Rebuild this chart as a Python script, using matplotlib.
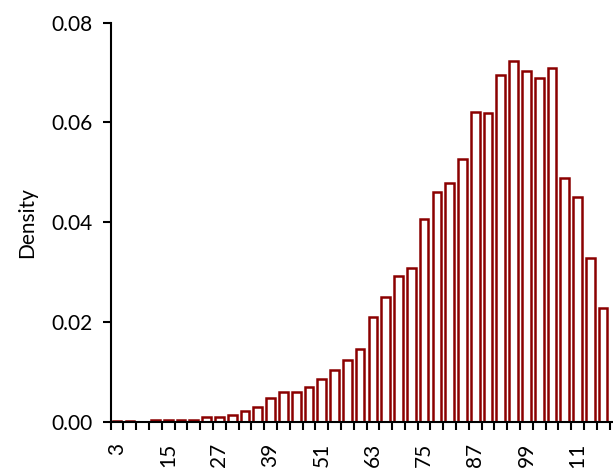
import numpy as np
import matplotlib.pyplot as plt

# valores (densidad por intervalo de 3)
bins = [3, 6, 9, 12, 15, 18, 21, 24, 27, 30, 33, 36, 39, 42, 45, 48, 51, 54, 57, 60,
        63, 66, 69, 72, 75, 78, 81, 84, 87, 90, 93, 96, 99, 102, 105, 108, 111, 114, 117]
density = [0.0002, 0.0002, 0.0, 0.0003, 0.0003, 0.0003, 0.0003, 0.0009, 0.0009, 0.0013,
           0.0021, 0.0029, 0.0047, 0.0060, 0.0059, 0.0069, 0.0085, 0.0103, 0.0123, 0.0145,
           0.0209, 0.0250, 0.0293, 0.0309, 0.0407, 0.0461, 0.0479, 0.0526, 0.0621, 0.0619,
           0.0695, 0.0723, 0.0703, 0.0689, 0.0710, 0.0489, 0.0451, 0.0329, 0.0228]
tick_labels = ['3', '15', '27', '39', '51', '63', '75', '87', '99', '111']
y_ticks = [0.00, 0.02, 0.04, 0.06, 0.08]

plt.rcParams['font.family'] = ['Lato', 'DejaVu Sans']

fig = plt.figure(figsize=(6.13, 4.69), dpi=100)
ax = fig.add_axes([0.1806, 0.1008, 0.8346, 0.8507])

pos = np.arange(len(bins))
ax.bar(pos, density, width=0.68, color='white', edgecolor='#8b0000', linewidth=1.8)

ax.set_xlim(-0.5, len(bins) + 0.5)
ax.set_ylim(0, 0.08)

# etiquetas cada 4 intervalos, marcas en los bordes de cada barra
lab_pos = [bins.index(int(t)) for t in tick_labels]
ax.set_xticks(lab_pos)
ax.set_xticklabels(tick_labels, rotation=90, fontsize=15)
ax.tick_params(axis='x', which='major', length=0, pad=15)
ax.set_xticks(np.arange(-0.5, len(bins) + 1.5, 1), minor=True)
ax.tick_params(axis='x', which='minor', length=6, width=1.5, direction='out')

ax.set_yticks(y_ticks)
ax.set_yticklabels(['%.2f' % v for v in y_ticks], fontsize=15)
ax.tick_params(axis='y', length=6, width=1.5, pad=7)
ax.set_ylabel('Density', fontsize=15, labelpad=10)

ax.spines['top'].set_visible(False)
ax.spines['right'].set_visible(False)
ax.spines['left'].set_linewidth(1.5)
ax.spines['bottom'].set_linewidth(1.5)

plt.savefig('out.png', dpi=100)
